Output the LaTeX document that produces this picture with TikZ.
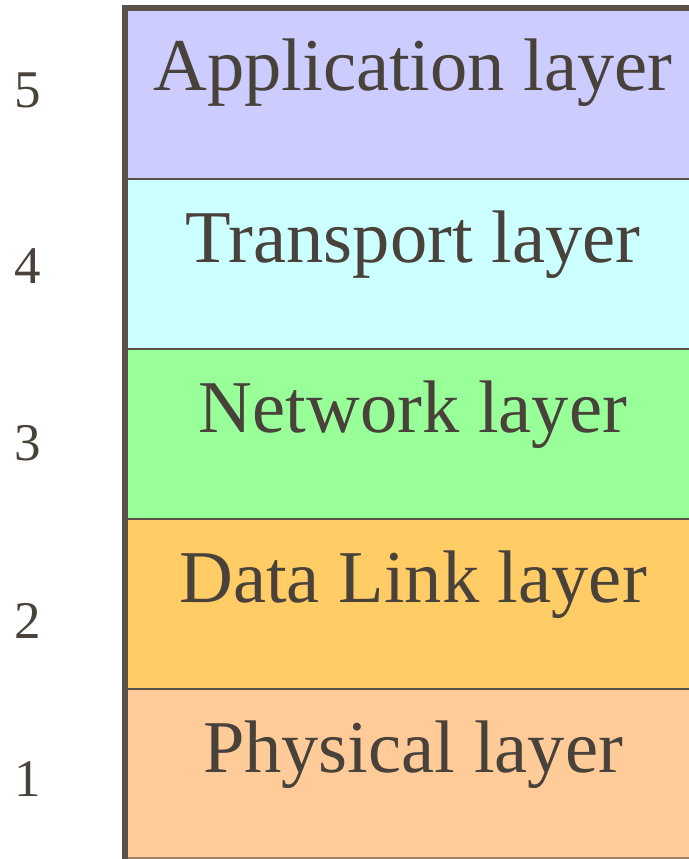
\documentclass[tikz,border=0pt]{standalone}
\usepackage{fontspec}
\setmainfont{Liberation Serif}
\definecolor{edge}{HTML}{5A5248}
\definecolor{ink}{HTML}{48423A}
\definecolor{appl}{HTML}{CCCCFF}
\definecolor{trans}{HTML}{CCFFFF}
\definecolor{netw}{HTML}{99FF99}
\definecolor{link}{HTML}{FFCC66}
\definecolor{phys}{HTML}{FFCC99}
\tikzset{
  band/.style={draw=edge,line width=2.6pt},
  layer/.style={anchor=base,inner sep=0,text=ink,font=\fontsize{74.5}{75}\selectfont},
  num/.style={anchor=base,inner sep=0,text=ink,font=\fontsize{53}{53}\selectfont}
}
\begin{document}
\begin{tikzpicture}[x=1pt,y=-1pt]
\useasboundingbox(0,0)rectangle(688,859);
\fill[appl](125,8)rectangle(690,179);
\fill[trans](125,179)rectangle(690,349);
\fill[netw](125,349)rectangle(690,519);
\fill[link](125,519)rectangle(690,689);
\fill[phys](125,689)rectangle(690,858);
\draw[band](125,179)--(690,179);
\draw[band](125,349)--(690,349);
\draw[band](125,519)--(690,519);
\draw[band](125,689)--(690,689);
\draw[draw=edge!60!phys,line width=1.2pt](125,858)--(690,858);
% frame: left and top edge
\draw[draw=edge,line width=5.5pt](125,859)--(125,8)--(690,8);
\node[layer](L5) at (413,90){Application layer};
\node[layer](L4) at (413,262){Transport layer};
\node[layer](L3) at (413,432){Network layer};
\node[layer](L2) at (413,602){Data Link layer};
\node[layer](L1) at (413,772){Physical layer};
\node[num](N5) at (28,107){5};
\node[num](N4) at (28,283){4};
\node[num](N3) at (28,460){3};
\node[num](N2) at (28,638){2};
\node[num](N1) at (28,796){1};
\end{tikzpicture}
\end{document}
